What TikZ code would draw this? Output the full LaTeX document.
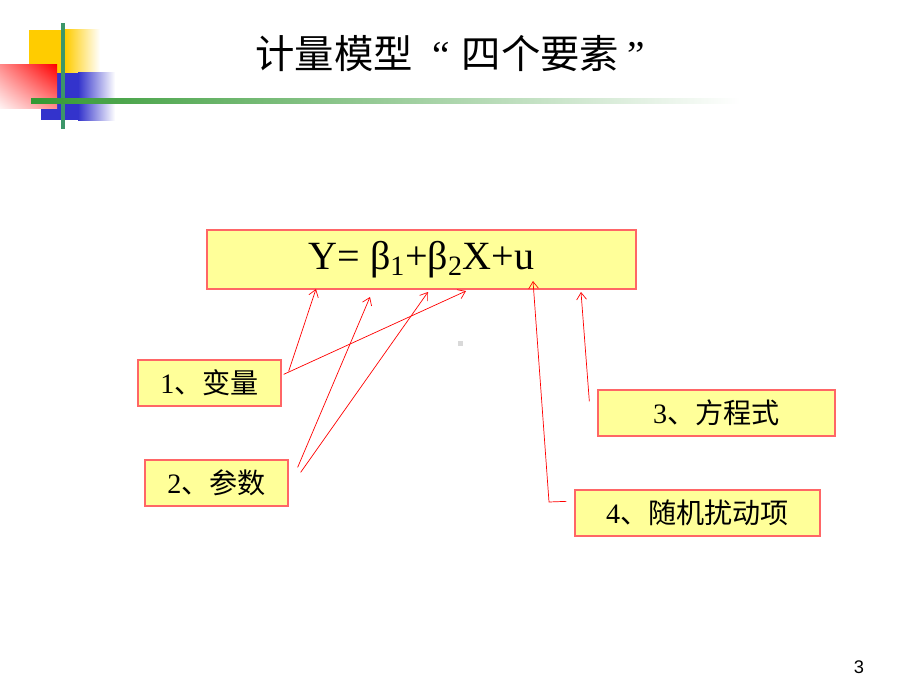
\documentclass[tikz,border=0pt]{standalone}
\usepackage{fontspec}
\setmainfont{Liberation Serif}
\newfontfamily\cjk{Noto Sans CJK SC}
\newfontfamily\pagefont{Liberation Sans}
\usetikzlibrary{arrows.meta,shadings}
\definecolor{boxfill}{RGB}{255,255,153}
\definecolor{boxline}{RGB}{255,102,102}
\definecolor{decoyellow}{RGB}{255,204,0}
\definecolor{decoblue}{RGB}{51,51,204}
\definecolor{decogreen}{RGB}{51,153,51}
\definecolor{decoteal}{RGB}{60,150,105}

\begin{document}
\begin{tikzpicture}[x=0.025cm,y=-0.025cm,
	termbox/.style={draw=boxline,line width=0.9pt,fill=boxfill,inner sep=0pt},
	pointer/.style={red,line width=0.5pt,-{Straight Barb[length=5pt,width=7pt]}}]
	\useasboundingbox (0,0) rectangle (920,690);
	% corner decoration
	\fill[decoyellow] (29,30) rectangle (65,73);
	\shade[left color=decoyellow,right color=white] (65,30) rectangle (100,73);
	\fill[decoblue] (41,73) rectangle (78,120);
	\shade[left color=decoblue,right color=white] (78,73) rectangle (115,120);
	\shade[upper right=red,upper left=red!45,lower right=red!45,lower left=red!5] (0,65) rectangle (57,108);
	\fill[decoteal] (61,23) rectangle (65,129);
	\shade[left color=decogreen,right color=white] (31,99) rectangle (740,103);
	\fill[gray!30] (458,341) rectangle (463,346);
	% title and page number
	\node (title) at (450,54) {\fontsize{28pt}{32pt}\selectfont
		{\cjk 计量模型}\hspace{0.5em}“\hspace{0.3em}{\cjk 四个要素}\hspace{0.2em}”};
	\node (page) at (859,667) {\fontsize{13pt}{15pt}\selectfont\pagefont 3};
	% the model
	\node[termbox,minimum width=10.725cm,minimum height=1.475cm] (eq) at (421.5,259.5)
		{\fontsize{28.5pt}{32pt}\selectfont Y= β\textsubscript{1}+β\textsubscript{2}X+u};
	\node[termbox,minimum width=3.575cm,minimum height=1.15cm] (var) at (209.5,383)
		{\fontsize{20pt}{24pt}\selectfont 1\cjk 、变量};
	\node[termbox,minimum width=3.575cm,minimum height=1.15cm] (par) at (216.5,483)
		{\fontsize{20pt}{24pt}\selectfont 2\cjk 、参数};
	\node[termbox,minimum width=5.925cm,minimum height=1.15cm] (form) at (716.5,413)
		{\fontsize{20pt}{24pt}\selectfont 3\cjk 、方程式};
	\node[termbox,minimum width=6.125cm,minimum height=1.15cm] (dist) at (697.5,513)
		{\fontsize{20pt}{24pt}\selectfont 4\cjk 、随机扰动项};
	% arrow tips under the equation
	\coordinate (tipY) at (316,289);
	\coordinate (tipX) at (466,291);
	\coordinate (tipBa) at (370,297);
	\coordinate (tipBb) at (428,292);
	\coordinate (tipU) at (533,281);
	\coordinate (tipEq) at (581,292);
	\coordinate (bend) at (549,502);
	\draw[pointer] ([shift={(7,12)}]var.north east) -- (tipY);
	\draw[pointer] ([shift={(2,15)}]var.north east) -- (tipX);
	\draw[pointer] ([shift={(9,8)}]par.north east) -- (tipBa);
	\draw[pointer] ([shift={(12,13)}]par.north east) -- (tipBb);
	\draw[pointer] ([shift={(-8,12)}]form.north west) -- (tipEq);
	\draw[pointer] ([shift={(-8,12)}]dist.north west) -- (bend) -- (tipU);
\end{tikzpicture}
\end{document}
